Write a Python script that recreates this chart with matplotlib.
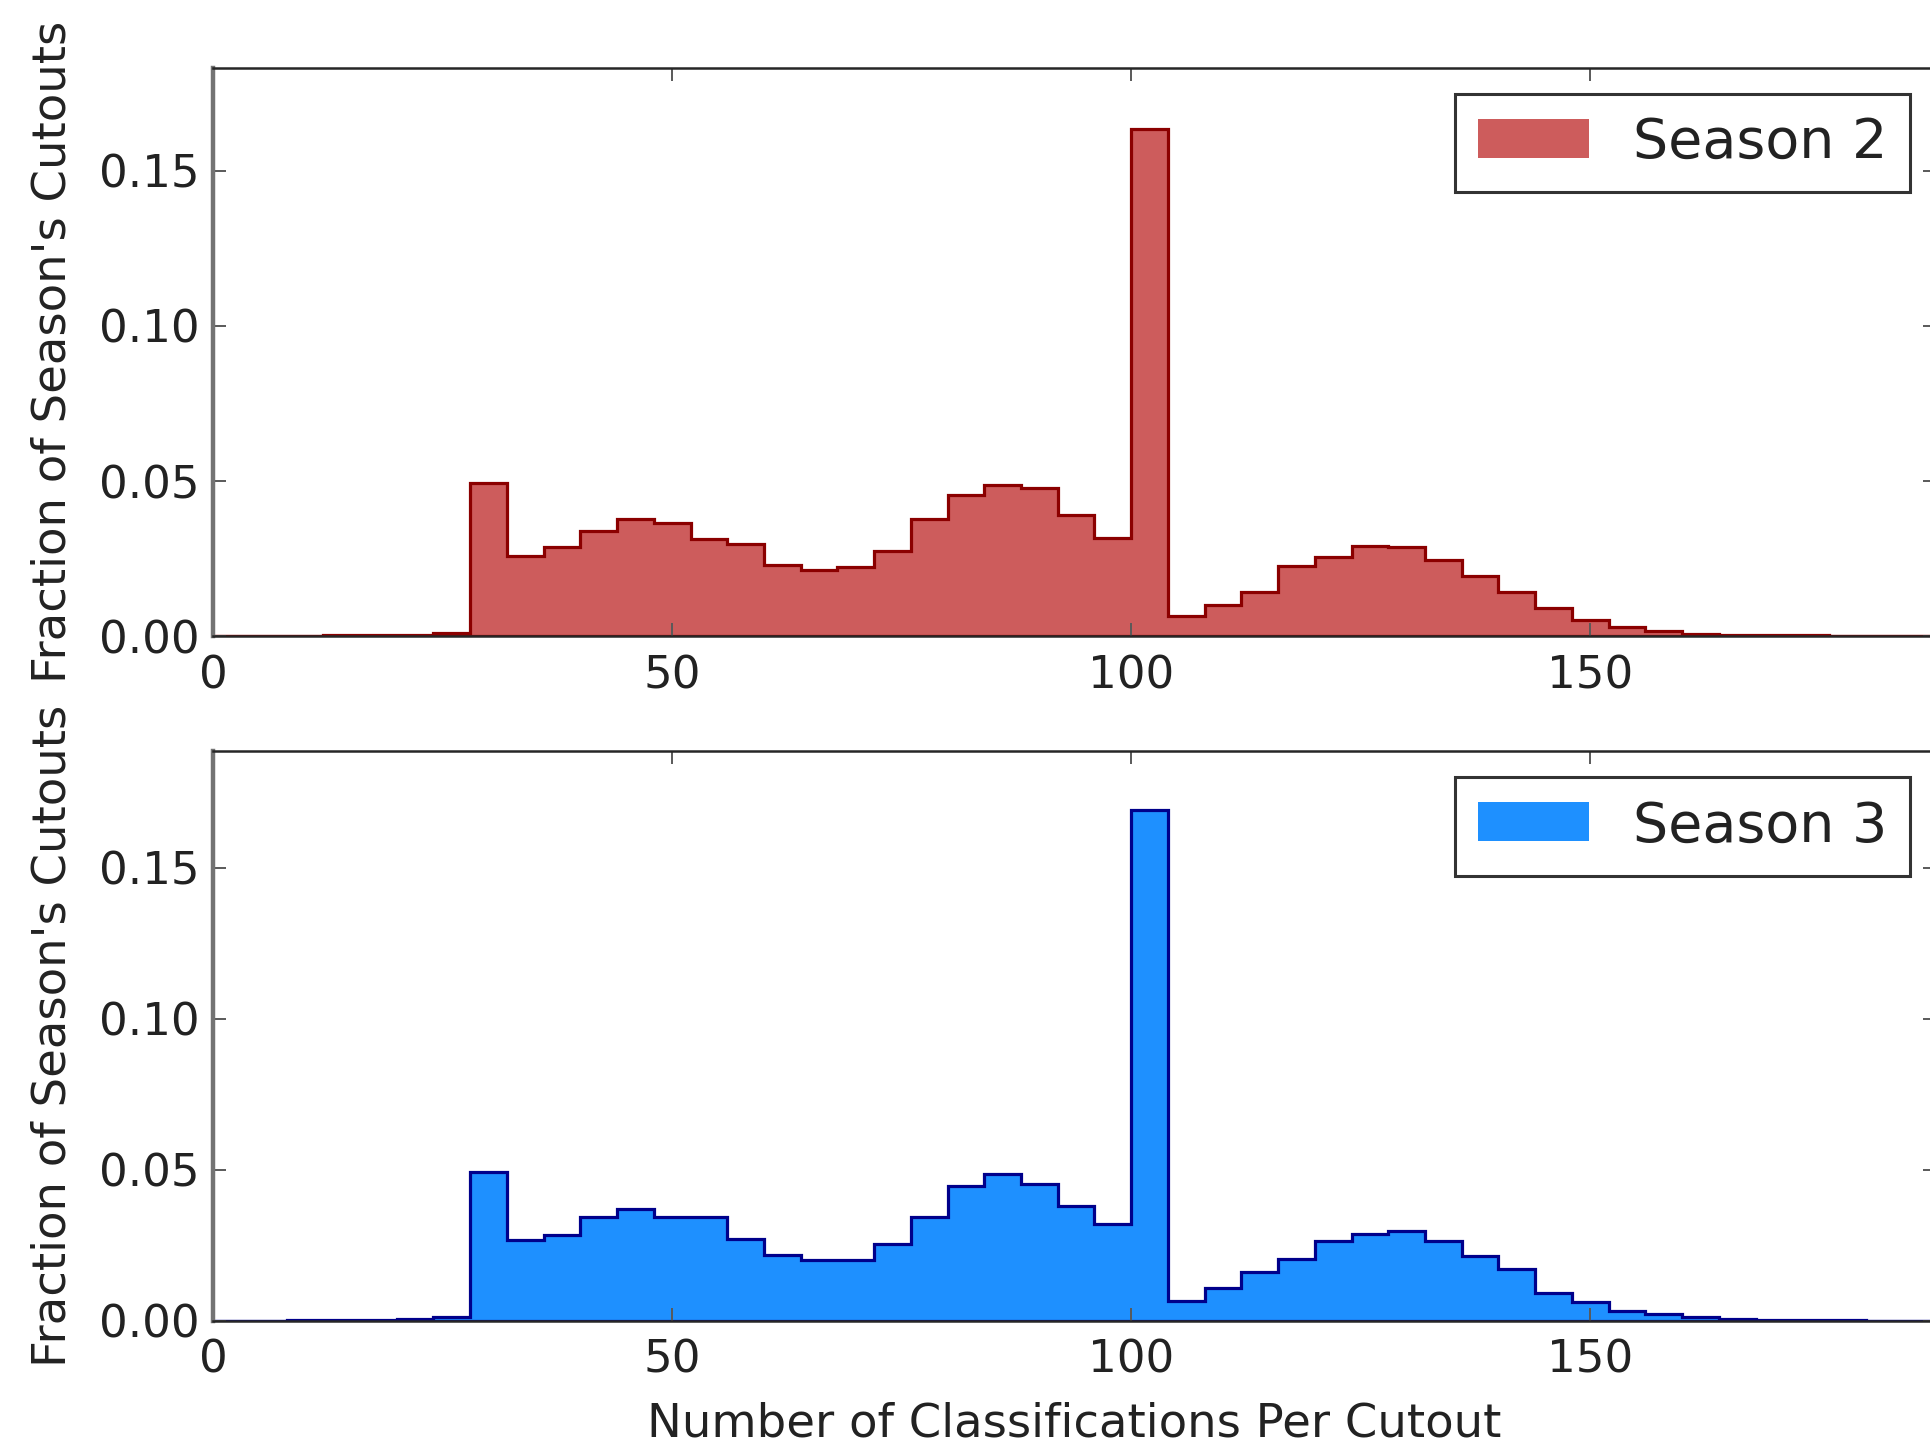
import numpy as np
import matplotlib
matplotlib.use("Agg")
import matplotlib.pyplot as plt
from matplotlib.patches import Patch

# histogram bins (width 4) and fraction of cutouts per bin
bin_edges = np.arange(0, 196, 4)

season2 = [0.0002, 0.0002, 0.0002, 0.0003, 0.0003, 0.0005, 0.0012,
           0.0495, 0.0259, 0.0288, 0.0340, 0.0378, 0.0365, 0.0313, 0.0299, 0.0230,
           0.0213, 0.0224, 0.0276, 0.0378, 0.0455, 0.0486, 0.0478, 0.0391, 0.0317,
           0.1635,
           0.0067, 0.0100, 0.0144, 0.0227, 0.0257, 0.0291, 0.0287, 0.0247, 0.0196,
           0.0144, 0.0093, 0.0053, 0.0031, 0.0017, 0.0007, 0.0004, 0.0003, 0.0003,
           0.0002, 0.0002, 0.0002, 0.0001]

season3 = [0.0001, 0.0001, 0.0002, 0.0002, 0.0003, 0.0006, 0.0012,
           0.0494, 0.0268, 0.0283, 0.0343, 0.0371, 0.0343, 0.0345, 0.0271, 0.0217,
           0.0202, 0.0202, 0.0254, 0.0345, 0.0446, 0.0486, 0.0452, 0.0381, 0.0321,
           0.1690,
           0.0066, 0.0107, 0.0162, 0.0205, 0.0264, 0.0288, 0.0299, 0.0263, 0.0216,
           0.0171, 0.0093, 0.0062, 0.0032, 0.0021, 0.0014, 0.0007, 0.0003, 0.0002,
           0.0002, 0.0001, 0.0001, 0.0001]

labels = ["Season 2", "Season 3"]
face_colors = ["#CD5C5C", "#1E90FF"]
edge_colors = ["#8B0000", "#00008B"]
y_tops = [0.1831, 0.1887]

ylabel = "Fraction of Season's Cutouts"
xlabel = "Number of Classifications Per Cutout"

fig = plt.figure(figsize=(19.3, 14.5), dpi=100)
ax_top = fig.add_axes([0.1104, 0.5611, 0.8927, 0.3922])
ax_bot = fig.add_axes([0.1104, 0.0891, 0.8927, 0.3930])

for ax, vals, lab, fc, ec, ytop in zip([ax_top, ax_bot], [season2, season3], labels,
                                       face_colors, edge_colors, y_tops):
    ax.hist(bin_edges[:-1], bins=bin_edges, weights=vals, histtype="stepfilled",
            facecolor=fc, edgecolor=ec, linewidth=2.3)
    ax.set_xlim(0, 187.65)
    ax.set_ylim(0, ytop)
    ax.set_xticks([0, 50, 100, 150])
    ax.set_yticks([0.0, 0.05, 0.10, 0.15])
    ax.yaxis.set_major_formatter(matplotlib.ticker.FormatStrFormatter("%.2f"))
    ax.tick_params(direction="in", top=True, right=True, length=9.5, width=1.4,
                   color="0.35", labelsize=32.5, pad=10, labelcolor="#222222")
    ax.tick_params(axis="x", pad=13)
    for s in ax.spines.values():
        s.set_color("0.15")
        s.set_linewidth(1.8)
    ax.spines["left"].set_color("0.45")
    ax.spines["left"].set_linewidth(3.2)
    ax.set_ylabel(ylabel, fontsize=33.5, color="#222222")
    ax.yaxis.set_label_coords(-0.080, 0.5)
    handle = Patch(facecolor=fc, edgecolor="none", label=lab)
    leg = ax.legend(handles=[handle], loc="upper right", fontsize=40, fancybox=False,
                    framealpha=1, borderaxespad=0.47, handletextpad=0.8)
    leg.get_frame().set_edgecolor("0.2")
    leg.get_frame().set_linewidth(2.2)
    for t in leg.get_texts():
        t.set_color("#222222")

ax_bot.set_xlabel(xlabel, fontsize=33.5, color="#222222")
ax_bot.xaxis.set_label_coords(0.5, -0.142)

fig.savefig("out.png", dpi=100)
